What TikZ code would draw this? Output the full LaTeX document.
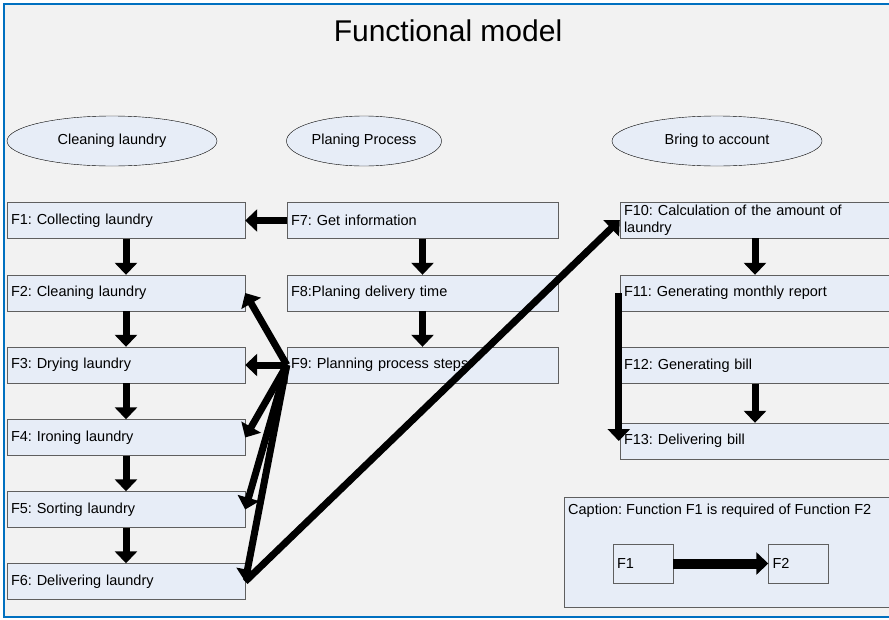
\documentclass[tikz,border=0pt]{standalone}
\usepackage{fontspec}
\setmainfont{Liberation Sans}
\frenchspacing
\usetikzlibrary{arrows.meta,shapes.geometric}
\definecolor{boxfill}{RGB}{231,237,247}
\definecolor{bggray}{RGB}{242,242,242}
\definecolor{frameblue}{RGB}{0,112,192}
\definecolor{boxline}{RGB}{95,95,95}
\tikzset{
  txt/.style={font=\fontsize{14.5}{17.5}\selectfont},
  func/.style={txt, rectangle, draw=boxline, fill=boxfill, minimum height=36pt, inner sep=4pt, align=left},
  area/.style={txt, ellipse, draw=black, fill=boxfill, minimum height=50pt, inner sep=0pt},
  flow/.style={draw=black, line width=7pt, -{Triangle[width=22pt,length=12pt]}}
}

\begin{document}
\begin{tikzpicture}[x=1pt,y=-1pt]
\clip (0,0) rectangle (889,619);
\fill[white] (0,0) rectangle (889,619);
\draw[frameblue, line width=2.5pt, fill=bggray] (4,4) rectangle (905,617);

\node (title) at (448,31) {\fontsize{30}{36}\selectfont Functional model};

% the three groups
\node (clean) [area, minimum width=210pt] at (112,141) {Cleaning laundry};
\node (plan)  [area, minimum width=155pt] at (364,141) {Planing Process};
\node (bring) [area, minimum width=210pt] at (717,141) {Bring to account};

\begin{scope}[every node/.style={func, text width=230pt}]
    \node (F1) at (126,220.5) {F1: Collecting laundry};
    \node (F2) at (126,293)   {F2: Cleaning laundry};
    \node (F3) at (126,365)   {F3: Drying laundry};
    \node (F4) at (126,437.5) {F4: Ironing laundry};
    \node (F5) at (126,509.5) {F5: Sorting laundry};
    \node (F6) at (126,581.5) {F6: Delivering laundry};
\end{scope}

\begin{scope}[every node/.style={func, text width=263pt}]
    \node (F7) at (422.5,220.5) {F7: Get information};
    \node (F8) at (422.5,293)   {F8:Planing delivery time};
    \node (F9) at (422.5,365)   {F9: Planning process steps};
\end{scope}

\begin{scope}[every node/.style={func, text width=262pt}]
    \node (F10) [inner ysep=1pt] at (755,220) {F10: Calculation of the amount of\\laundry};
    \node (F11) at (755,293)   {F11: Generating monthly report};
    \node (F12) at (755,365.5) {F12: Generating bill};
    \node (F13) at (755,441)   {F13: Delivering bill};
\end{scope}

% caption
\node (legend) [rectangle, draw=boxline, fill=boxfill, minimum width=340pt, minimum height=110pt, anchor=north west] at (564,497) {};
\node (legtxt) [txt, anchor=west, inner sep=0pt] at (568,511) {Caption: Function F1 is required of Function F2};
\begin{scope}[every node/.style={func, minimum height=39pt, text width=52pt}]
    \node (leg1) at (643,563.5) {F1};
    \node (leg2) at (798.5,563.5) {F2};
\end{scope}

\begin{scope}[every edge/.style={flow}]
    \path (F1) edge (F2);
    \path (F2) edge (F3);
    \path (F3) edge (F4);
    \path (F4) edge (F5);
    \path (F5) edge (F6);
    \path (F7) edge (F1);
    \path (F7) edge (F8);
    \path (F8) edge (F9);
    \path (F9) edge (F3);
    \path (F9.west) edge (F2.east);
    \path (F9.west) edge (F4.east);
    \path (F9.west) edge (F5.east);
    \path (F9.west) edge (F6.east);
    \path (F6.east) edge (F10.west);
    \path (F10) edge (F11);
    \path (F12) edge (F13);
    \path ([xshift=-1pt]F11.west) edge ([xshift=-1pt]F13.west);
    \path (leg1) edge[line width=10pt] (leg2);
\end{scope}
\end{tikzpicture}
\end{document}
